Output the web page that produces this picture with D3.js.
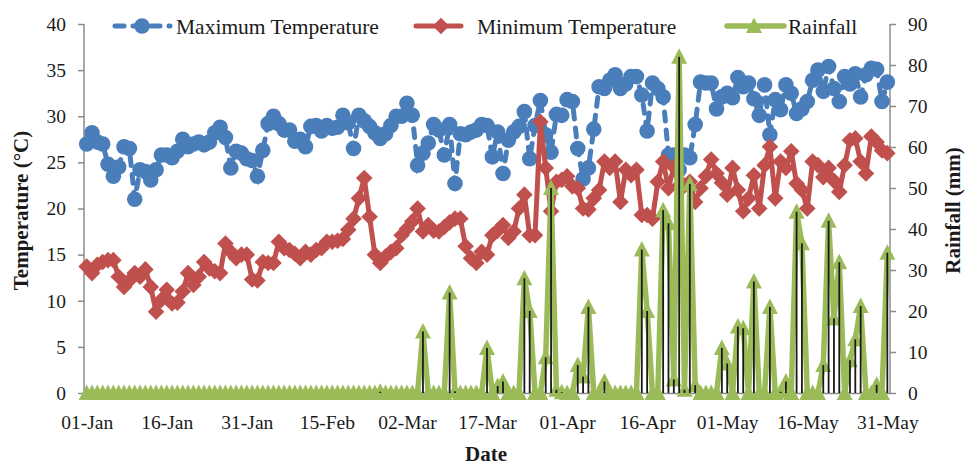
<!DOCTYPE html>
<html>
<head>
<meta charset="utf-8">
<script src="https://cdn.jsdelivr.net/npm/d3@7"></script>
<style>
  body { margin: 0; background: #fff; }
  text { font-family: "Liberation Serif", "Times New Roman", serif; fill: #1a1a1a; }
</style>
</head>
<body>
<div id="chart"></div>
<script>
// set dimensions
var width = 966;
var height = 465;
var margin = {top: 24, right: 76, bottom: 72, left: 84};

// categories: one value per day, 01-Jan to 31-May
var startDate = "2013-01-01";
var endDate = "2013-05-31";
var tickDates = ["2013-01-01", "2013-01-16", "2013-01-31", "2013-02-15", "2013-03-02",
  "2013-03-17", "2013-04-01", "2013-04-16", "2013-05-01", "2013-05-16", "2013-05-31"];
var tempTicks = [0, 5, 10, 15, 20, 25, 30, 35, 40];
var rainTicks = [0, 10, 20, 30, 40, 50, 60, 70, 80, 90];

// Maximum temperature (°C)
var maxTemp = [
  27.0, 28.2, 27.2, 27.0, 24.8, 23.5, 24.5, 26.7, 26.5, 21.0,
  24.2, 24.0, 23.1, 24.2, 25.8, 25.8, 25.5, 26.2, 27.5, 26.7,
  27.0, 27.2, 26.9, 27.2, 28.2, 28.8, 27.7, 24.4, 26.2, 26.0,
  25.4, 25.2, 23.5, 26.3, 29.2, 30.0, 29.2, 28.5, 28.5, 27.3,
  27.5, 26.7, 28.9, 29.0, 28.4, 29.0, 28.7, 28.8, 30.1, 29.3,
  26.5, 30.1, 29.5, 28.9, 28.2, 27.6, 28.1, 29.0, 30.0, 30.0,
  31.4, 30.1, 24.7, 26.0, 27.1, 29.1, 28.5, 25.8, 29.1, 22.7,
  28.1, 28.0, 28.3, 28.5, 29.1, 29.0, 25.6, 28.3, 23.8, 27.4,
  28.3, 28.9, 30.5, 25.4, 29.0, 31.7, 28.0, 26.1, 30.2, 30.1,
  31.8, 31.6, 26.5, 23.2, 24.4, 28.6, 33.2, 33.0, 33.9, 34.5,
  33.0, 33.5, 34.3, 34.3, 32.3, 28.4, 33.6, 33.0, 32.1, 25.8,
  25.8, 24.2, 25.8, 25.5, 29.1, 33.7, 33.6, 33.6, 30.8, 32.1,
  32.5, 32.0, 34.2, 33.2, 33.6, 31.9, 30.1, 33.4, 28.0, 31.8,
  30.7, 33.4, 32.5, 30.3, 30.8, 31.6, 33.9, 35.0, 32.7, 35.4,
  33.0, 31.6, 34.3, 33.5, 34.6, 32.1, 34.5, 35.2, 35.1, 31.6,
  33.7
];

// Minimum temperature (°C)
var minTemp = [
  13.7, 13.0, 13.9, 14.2, 14.4, 14.4, 12.6, 11.5, 12.2, 13.0,
  12.6, 13.4, 11.5, 8.8, 10.1, 11.2, 9.7, 9.8, 11.0, 13.0,
  11.7, 12.6, 14.2, 13.5, 13.2, 13.0, 16.2, 15.3, 14.6, 15.0,
  15.0, 12.3, 12.2, 14.2, 14.1, 14.1, 16.4, 15.7, 15.5, 15.1,
  14.6, 15.3, 15.0, 15.5, 15.7, 16.4, 16.4, 16.5, 16.7, 17.7,
  18.9, 21.1, 23.3, 19.1, 15.0, 14.1, 14.8, 15.3, 15.7, 17.1,
  17.8, 18.6, 20.0, 17.5, 18.2, 17.6, 17.5, 18.0, 18.5, 18.9,
  18.9, 15.9, 14.6, 14.1, 15.3, 15.0, 17.1, 17.6, 18.2, 16.8,
  17.5, 20.0, 21.5, 17.1, 17.1, 29.4, 24.4, 19.7, 22.9, 23.1,
  23.5, 22.4, 22.2, 20.0, 19.9, 21.1, 22.0, 25.1, 24.4, 25.1,
  20.7, 24.2, 23.6, 24.2, 19.3, 19.3, 18.9, 22.9, 25.1, 22.2,
  24.5, 22.5, 22.5, 22.9, 20.7, 22.2, 23.5, 25.3, 23.8, 22.8,
  21.5, 24.4, 22.0, 19.7, 21.1, 23.6, 20.0, 24.7, 26.7, 21.1,
  25.1, 24.4, 26.2, 22.7, 22.0, 20.0, 25.1, 24.7, 23.4, 24.4,
  23.0, 21.8, 24.7, 27.4, 27.6, 25.1, 23.8, 27.8, 27.2, 26.3,
  26.0
];

// Rainfall (mm)
var rainfall = [
  0, 0, 0, 0, 0, 0, 0, 0, 0, 0,
  0, 0, 0, 0, 0, 0, 0, 0, 0, 0,
  0, 0, 0, 0, 0, 0, 0, 0, 0, 0,
  0, 0, 0, 0, 0, 0, 0, 0, 0, 0,
  0, 0, 0, 0, 0, 0, 0, 0, 0, 0,
  0, 0, 0, 0, 0, 0.3, 0, 0, 0, 0,
  0, 0, 0, 15, 0, 0, 0, 0, 24.5, 0.4,
  0, 0, 0, 0, 0, 11, 0, 1.7, 2.8, 0,
  0, 0, 28, 20, 0, 0, 8.7, 50, 0.8, 0.2,
  0, 0, 6.8, 4, 21, 0, 0, 2.8, 0, 0,
  0, 0, 0, 0, 35, 20, 0, 0, 44.6, 41.4,
  3.3, 82, 0.8, 51, 1.9, 0, 0, 0, 0, 11,
  7.2, 0, 16.2, 15.8, 0, 27.2, 0, 0, 21, 0,
  0.3, 2.8, 0, 44.2, 36.5, 0, 0, 0, 6.8, 42,
  18.2, 31.9, 0, 8, 13.1, 21.2, 0, 0, 2, 0,
  34.2
];

var blue = "#4a7ebb", red = "#c0504d", green = "#9bbb59", axisGrey = "#8c8c8c";

var parse = d3.timeParse("%Y-%m-%d");
var dates = d3.timeDay.range(parse(startDate), d3.timeDay.offset(parse(endDate), 1));

var rows = dates.map(function(d, i) {
  return {date: d, tmax: maxTemp[i], tmin: minTemp[i], rain: rainfall[i]};
});

var svg = d3.select("#chart")
  .append("svg")
    .attr("width", width)
    .attr("height", height);

// points sit in the middle of each day slot
var x = d3.scaleTime()
  .domain([d3.timeHour.offset(dates[0], -12), d3.timeHour.offset(dates[dates.length - 1], 12)])
  .range([margin.left, width - margin.right]);

var yT = d3.scaleLinear().domain([0, 40]).range([height - margin.bottom, margin.top]);
var yR = d3.scaleLinear().domain([0, 90]).range([height - margin.bottom, margin.top]);

// axes
var fmt = d3.timeFormat("%d-%b");

var xAxis = svg.append("g")
  .attr("transform", "translate(0," + yT(0) + ")")
  .call(d3.axisBottom(x).tickValues(tickDates.map(parse)).tickFormat(fmt).tickSize(0).tickPadding(22));

var leftAxis = svg.append("g")
  .attr("transform", "translate(" + margin.left + ",0)")
  .call(d3.axisLeft(yT).tickValues(tempTicks).tickSize(6).tickPadding(12));

var rightAxis = svg.append("g")
  .attr("transform", "translate(" + (width - margin.right) + ",0)")
  .call(d3.axisRight(yR).tickValues(rainTicks).tickSize(6).tickPadding(12));

[xAxis, leftAxis, rightAxis].forEach(function(g) {
  g.select(".domain").attr("stroke", axisGrey).attr("stroke-width", 1.5);
  g.selectAll(".tick line").attr("stroke", axisGrey).attr("stroke-width", 1.5);
  g.selectAll(".tick text")
    .style("font-family", "'Liberation Serif', 'Times New Roman', serif")
    .style("font-size", "19.5px")
    .attr("fill", "#1a1a1a");
});
leftAxis.select(".domain").attr("d", "M0," + yT(40) + "V" + yT(0));
rightAxis.select(".domain").attr("d", "M0," + yR(90) + "V" + yR(0));

// Shape helpers
var diamond = function(s) { return "M0," + (-s) + "L" + s + ",0L0," + s + "L" + (-s) + ",0Z"; };
var triangle = "M0,-8.5L8,7L-8,7Z";

// maximum temperature: dashed line + circles
var lineMax = d3.line().x(function(d) { return x(d.date); }).y(function(d) { return yT(d.tmax); });
svg.append("path")
  .datum(rows)
  .attr("d", lineMax)
  .attr("fill", "none")
  .attr("stroke", blue)
  .attr("stroke-width", 5)
  .attr("stroke-linecap", "round")
  .attr("stroke-dasharray", "9,9");

svg.selectAll(".maxPt")
  .data(rows)
  .enter()
  .append("circle")
    .attr("cx", function(d) { return x(d.date); })
    .attr("cy", function(d) { return yT(d.tmax); })
    .attr("r", 7.8)
    .attr("fill", blue);

// minimum temperature: solid line + diamonds
var lineMin = d3.line().x(function(d) { return x(d.date); }).y(function(d) { return yT(d.tmin); });
svg.append("path")
  .datum(rows)
  .attr("d", lineMin)
  .attr("fill", "none")
  .attr("stroke", red)
  .attr("stroke-width", 5)
  .attr("stroke-linejoin", "round");

svg.selectAll(".minPt")
  .data(rows)
  .enter()
  .append("path")
    .attr("d", diamond(8.3))
    .attr("transform", function(d) { return "translate(" + x(d.date) + "," + yT(d.tmin) + ")"; })
    .attr("fill", red);

// rainfall: green line + triangles
var lineRain = d3.line().x(function(d) { return x(d.date); }).y(function(d) { return yR(d.rain); });
svg.append("path")
  .datum(rows)
  .attr("d", lineRain)
  .attr("fill", "none")
  .attr("stroke", green)
  .attr("stroke-width", 5.5)
  .attr("stroke-linejoin", "round");

svg.selectAll(".rainPt")
  .data(rows)
  .enter()
  .append("path")
    .attr("d", triangle)
    .attr("transform", function(d) { return "translate(" + x(d.date) + "," + yR(d.rain) + ")"; })
    .attr("fill", green);

// thin black rainfall bars
svg.selectAll(".rainBar")
  .data(rows.filter(function(d) { return d.rain > 0; }))
  .enter()
  .append("rect")
    .attr("x", function(d) { return x(d.date) - 0.9; })
    .attr("y", function(d) { return yR(d.rain); })
    .attr("width", 1.8)
    .attr("height", function(d) { return yR(0) - yR(d.rain); })
    .attr("fill", "#1a1a1a");

// axis titles
svg.append("text")
  .attr("transform", "translate(28," + (yT(20) + 2) + ") rotate(-90)")
  .attr("text-anchor", "middle")
  .style("font-size", "21px")
  .style("font-weight", "bold")
  .text("Temperature (°C)");

svg.append("text")
  .attr("transform", "translate(960," + (yT(20) + 2) + ") rotate(-90)")
  .attr("text-anchor", "middle")
  .style("font-size", "21px")
  .style("font-weight", "bold")
  .text("Rainfall (mm)");

svg.append("text")
  .attr("x", 486)
  .attr("y", 461)
  .attr("text-anchor", "middle")
  .style("font-size", "21px")
  .style("font-weight", "bold")
  .text("Date");

// legend
var legendY = 26;
var leg = svg.append("g");

leg.append("line")
  .attr("x1", 115).attr("x2", 170).attr("y1", legendY).attr("y2", legendY)
  .attr("stroke", blue).attr("stroke-width", 5)
  .attr("stroke-linecap", "round").attr("stroke-dasharray", "9,9");
leg.append("circle").attr("cx", 142).attr("cy", legendY).attr("r", 7.8).attr("fill", blue);
leg.append("text").attr("x", 176).attr("y", legendY + 7.5)
  .style("font-size", "21.5px").text("Maximum Temperature");

leg.append("line")
  .attr("x1", 416).attr("x2", 461).attr("y1", legendY).attr("y2", legendY)
  .attr("stroke", red).attr("stroke-width", 5).attr("stroke-linecap", "round");
leg.append("path").attr("d", diamond(8.3))
  .attr("transform", "translate(441," + legendY + ")").attr("fill", red);
leg.append("text").attr("x", 477).attr("y", legendY + 7.5)
  .style("font-size", "21.5px").text("Minimum Temperature");

leg.append("line")
  .attr("x1", 727).attr("x2", 784).attr("y1", legendY).attr("y2", legendY)
  .attr("stroke", green).attr("stroke-width", 5.5).attr("stroke-linecap", "round");
leg.append("path").attr("d", triangle)
  .attr("transform", "translate(754," + legendY + ")").attr("fill", green);
leg.append("text").attr("x", 788).attr("y", legendY + 7.5)
  .style("font-size", "21.5px").text("Rainfall");
</script>
</body>
</html>
